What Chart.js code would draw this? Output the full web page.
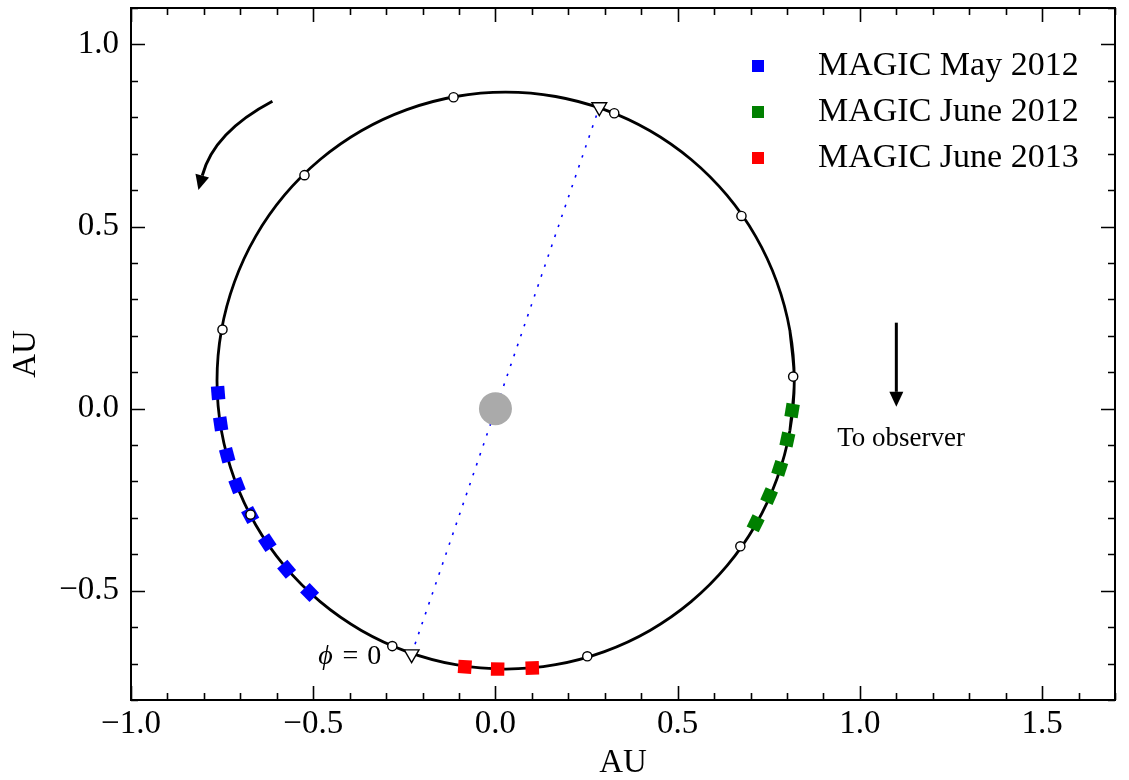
<!DOCTYPE html>
<html>
<head>
<meta charset="utf-8">
<script src="https://cdn.jsdelivr.net/npm/chart.js@4.4.1/dist/chart.umd.min.js"></script>
<style>
  html, body { margin: 0; padding: 0; background: #fff; }
</style>
</head>
<body>
<canvas id="orbit" width="1129" height="780"></canvas>
<script>
// tick labels
const xTicks = [-1.0, -0.5, 0.0, 0.5, 1.0, 1.5];
const yTicks = [-0.5, 0.0, 0.5, 1.0];

// orbit track (AU), walked once round with a small overlap at the join
const orbitX = [0.808, 0.820, 0.808, 0.772, 0.714, 0.635, 0.537, 0.424, 0.299, 0.165,
  0.028, -0.109, -0.243, -0.368, -0.481, -0.579, -0.658, -0.716, -0.752, -0.764,
  -0.752, -0.716, -0.658, -0.579, -0.481, -0.368, -0.243, -0.109, 0.028, 0.165,
  0.299, 0.424, 0.537, 0.635, 0.714, 0.772, 0.808, 0.820, 0.808];
const orbitY = [-0.060, 0.077, 0.214, 0.348, 0.473, 0.586, 0.684, 0.763, 0.821, 0.857,
  0.869, 0.857, 0.821, 0.763, 0.684, 0.586, 0.473, 0.348, 0.214, 0.077,
  -0.060, -0.194, -0.319, -0.432, -0.530, -0.609, -0.667, -0.703, -0.715, -0.703,
  -0.667, -0.609, -0.530, -0.432, -0.319, -0.194, -0.060, 0.077, 0.214];

// phase markers every 0.1 in phase
const phaseX = [-0.115, 0.326, 0.675, 0.817, 0.672, 0.252, -0.283, -0.672, -0.749, -0.524];
const phaseY = [0.855, 0.811, 0.529, 0.088, -0.378, -0.680, -0.652, -0.291, 0.217, 0.641];

// periastron (phi = 0) and apastron
const apsisX = [-0.230, 0.285];
const apsisY = [-0.674, 0.828];

// observation nights
const may12X = [-0.761, -0.754, -0.736, -0.709, -0.673, -0.626, -0.573, -0.510];
const may12Y = [0.043, -0.042, -0.128, -0.211, -0.292, -0.368, -0.441, -0.505];
const jun12X = [0.814, 0.801, 0.780, 0.751, 0.714];
const jun12Y = [-0.005, -0.085, -0.164, -0.240, -0.315];
const jun13X = [-0.084, 0.006, 0.101];
const jun13Y = [-0.709, -0.715, -0.712];

const starX = [0.0];
const starY = [0.0];

const SERIF = "'Liberation Serif', 'Times New Roman', serif";
const pts = (xs, ys) => xs.map((x, i) => ({ x: x, y: ys[i] }));
const fmt = v => (v < 0 ? '\u2212' : '') + Math.abs(v).toFixed(1);

// squares lie along the track
function alongTrack(ctx) {
  const d = ctx.dataset.data;
  if (d.length < 2) return 0;
  const i = ctx.dataIndex;
  const a = d[Math.max(i - 1, 0)], b = d[Math.min(i + 1, d.length - 1)];
  return Math.atan2(-(b.y - a.y), b.x - a.x) * 180 / Math.PI;
}

function nights(label, xs, ys, color) {
  return {
    label: label,
    data: pts(xs, ys),
    showLine: false,
    pointStyle: 'rect',
    pointRadius: 9.5,
    pointRotation: alongTrack,
    backgroundColor: color,
    borderColor: color,
    borderWidth: 0,
    order: 3
  };
}

function arrowHead(ctx, tx, ty, fx, fy, len, half) {
  const ang = Math.atan2(ty - fy, tx - fx);
  const bx = tx - Math.cos(ang) * len, by = ty - Math.sin(ang) * len;
  ctx.beginPath();
  ctx.moveTo(tx, ty);
  ctx.lineTo(bx + Math.sin(ang) * half, by - Math.cos(ang) * half);
  ctx.lineTo(bx - Math.sin(ang) * half, by + Math.cos(ang) * half);
  ctx.closePath();
  ctx.fill();
  return [bx, by];
}

// box with inward ticks on all four sides
const framePlugin = {
  id: 'frame',
  afterDraw(chart) {
    const { ctx, chartArea: a, scales: { x, y } } = chart;
    ctx.save();
    ctx.strokeStyle = '#000';
    ctx.lineWidth = 2;
    ctx.strokeRect(a.left, a.top, a.right - a.left, a.bottom - a.top);
    ctx.lineWidth = 1.6;
    ctx.beginPath();
    for (let k = -10; k <= 17; k++) {
      const px = Math.round(x.getPixelForValue(k / 10)) + 0.5;
      const len = k % 5 === 0 ? 14 : 7;
      ctx.moveTo(px, a.bottom); ctx.lineTo(px, a.bottom - len);
      ctx.moveTo(px, a.top); ctx.lineTo(px, a.top + len);
    }
    for (let k = -8; k <= 11; k++) {
      const py = Math.round(y.getPixelForValue(k / 10)) + 0.5;
      const len = k % 5 === 0 ? 14 : 7;
      ctx.moveTo(a.left, py); ctx.lineTo(a.left + len, py);
      ctx.moveTo(a.right, py); ctx.lineTo(a.right - len, py);
    }
    ctx.stroke();
    ctx.restore();
  }
};

// arrows, labels and legend
const notesPlugin = {
  id: 'notes',
  afterDraw(chart) {
    const { ctx, chartArea: a, scales: { x, y } } = chart;
    const P = (dx, dy) => [x.getPixelForValue(dx), y.getPixelForValue(dy)];
    ctx.save();
    ctx.fillStyle = '#000';
    ctx.strokeStyle = '#000';
    ctx.lineWidth = 3;
    ctx.lineCap = 'butt';

    // sense of motion
    const s0 = P(-0.612, 0.844), sc = P(-0.773, 0.759), st = P(-0.815, 0.600);
    const base = arrowHead(ctx, st[0], st[1], sc[0], sc[1], 15, 7);
    ctx.beginPath();
    ctx.moveTo(s0[0], s0[1]);
    ctx.quadraticCurveTo(sc[0], sc[1], base[0], base[1]);
    ctx.stroke();

    // line of sight
    const o0 = P(1.10, 0.236), ot = P(1.10, 0.005);
    const ob = arrowHead(ctx, ot[0], ot[1], o0[0], o0[1], 15, 7);
    ctx.beginPath();
    ctx.moveTo(o0[0], o0[1]);
    ctx.lineTo(ob[0], ob[1]);
    ctx.stroke();

    ctx.textBaseline = 'middle';
    ctx.textAlign = 'center';
    ctx.font = '27px ' + SERIF;
    const to = P(1.113, -0.082);
    ctx.fillText('To observer', to[0], to[1]);

    // phi = 0 at periastron
    const ph = P(-0.313, -0.680);
    ctx.font = '28px ' + SERIF;
    ctx.textAlign = 'right';
    ctx.fillText('0', ph[0], ph[1]);
    ctx.textAlign = 'center';
    ctx.fillText('=', ph[0] - 31, ph[1]);
    ctx.font = 'italic 28px ' + SERIF;
    ctx.fillText('\u03d5', ph[0] - 56, ph[1]);

    // legend
    ctx.font = '34px ' + SERIF;
    ctx.textAlign = 'left';
    const items = chart.data.datasets.filter(d => d.label);
    items.forEach((d, i) => {
      const ry = a.top + 58 + i * 46;
      ctx.fillStyle = d.backgroundColor;
      ctx.fillRect(a.right - 363, ry - 6, 12, 12);
      ctx.fillStyle = '#000';
      ctx.fillText(d.label, a.right - 297, ry);
    });
    ctx.restore();
  }
};

Chart.defaults.font.family = SERIF;
Chart.defaults.color = '#000';

new Chart(document.getElementById('orbit'), {
  type: 'scatter',
  data: {
    datasets: [
      {
        data: pts(orbitX, orbitY),
        showLine: true,
        tension: 0.35,
        borderColor: '#000',
        borderWidth: 2.8,
        pointRadius: 0,
        order: 7
      },
      {
        data: pts(apsisX, apsisY),
        showLine: true,
        borderColor: '#0000ff',
        borderWidth: 1.6,
        borderDash: [2.5, 8],
        pointRadius: 0,
        order: 6
      },
      {
        data: pts(starX, starY),
        pointRadius: 16.5,
        backgroundColor: '#aaaaaa',
        borderWidth: 0,
        order: 5
      },
      nights('MAGIC May 2012', may12X, may12Y, '#0000ff'),
      nights('MAGIC June 2012', jun12X, jun12Y, '#008000'),
      nights('MAGIC June 2013', jun13X, jun13Y, '#ff0000'),
      {
        data: pts(phaseX, phaseY),
        pointRadius: 4.6,
        backgroundColor: '#fff',
        borderColor: '#000',
        borderWidth: 1.4,
        order: 2
      },
      {
        data: pts(apsisX, apsisY),
        pointStyle: 'triangle',
        pointRotation: 180,
        pointRadius: 8.5,
        backgroundColor: '#fff',
        borderColor: '#000',
        borderWidth: 1.4,
        order: 1
      }
    ]
  },
  options: {
    responsive: false,
    devicePixelRatio: 1,
    animation: false,
    events: [],
    layout: { autoPadding: false, padding: { top: 8, right: 14, left: 0, bottom: 0 } },
    plugins: { legend: { display: false }, tooltip: { enabled: false } },
    scales: {
      x: {
        type: 'linear',
        min: -1.0,
        max: 1.7,
        afterBuildTicks: s => { s.ticks = xTicks.map(v => ({ value: v })); },
        afterFit: s => { s.height = 80; s.paddingLeft = 0; s.paddingRight = 0; },
        grid: { display: false, drawTicks: false },
        border: { display: false },
        ticks: { font: { size: 33 }, padding: 5, autoSkip: false, maxRotation: 0, callback: fmt },
        title: { display: true, text: 'AU', font: { size: 33, lineHeight: 1 }, padding: { top: 0, bottom: 0 } }
      },
      y: {
        type: 'linear',
        min: -0.8,
        max: 1.1,
        afterBuildTicks: s => { s.ticks = yTicks.map(v => ({ value: v })); },
        afterFit: s => { s.width = 131; s.paddingTop = 0; s.paddingBottom = 0; },
        grid: { display: false, drawTicks: false },
        border: { display: false },
        ticks: { font: { size: 33 }, padding: 12, autoSkip: false, callback: fmt },
        title: { display: true, text: 'AU', font: { size: 33, lineHeight: 1 }, padding: { top: 10, bottom: 0 } }
      }
    }
  },
  plugins: [framePlugin, notesPlugin]
});
</script>
</body>
</html>
